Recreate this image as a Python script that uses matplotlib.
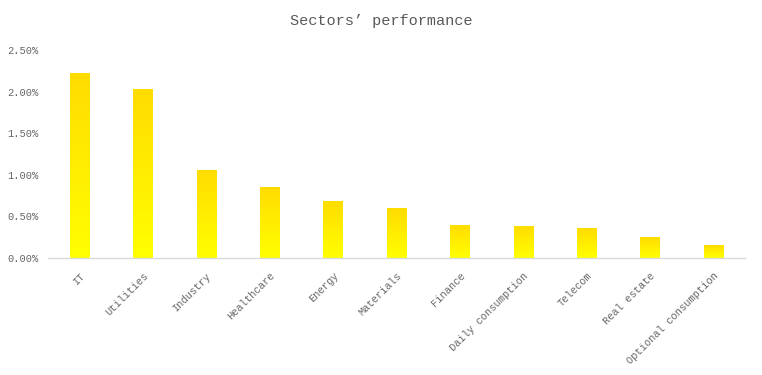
import matplotlib
matplotlib.use("Agg")
import matplotlib.pyplot as plt
import numpy as np
from matplotlib.ticker import FuncFormatter
from matplotlib.colors import LinearSegmentedColormap

categories = ["IT", "Utilities", "Industry", "Healthcare", "Energy", "Materials",
              "Finance", "Daily consumption", "Telecom", "Real estate",
              "Optional consumption"]
values = [2.22, 2.03, 1.06, 0.85, 0.685, 0.60, 0.40, 0.385, 0.36, 0.25, 0.155]
yticks = [0.0, 0.5, 1.0, 1.5, 2.0, 2.5]

font = "Liberation Mono"
fig = plt.figure(figsize=(7.62, 3.75), dpi=100)
ax = fig.add_axes([0.063, 0.312, 0.915, 0.555])

x = np.arange(len(categories))
bars = ax.bar(x, values, width=0.31, color="none", edgecolor="none")
cmap = LinearSegmentedColormap.from_list("g", ["#FFFF00", "#FFDC00"])
grad = np.linspace(0, 1, 256).reshape(-1, 1)
for b in bars:
    x0, y0 = b.get_x(), b.get_y()
    w, h = b.get_width(), b.get_height()
    im = ax.imshow(grad, cmap=cmap, origin="lower", aspect="auto",
                   extent=[x0, x0 + w, y0, y0 + h], zorder=2)
    im.set_clip_path(b)

ax.set_xlim(-0.5, len(categories) - 0.5)
ax.set_ylim(0, 2.5)
ax.set_yticks(yticks)
ax.yaxis.set_major_formatter(FuncFormatter(lambda v, p: f"{v:.2f}%"))
ax.set_xticks(x)
ax.set_xticklabels(categories, rotation=45, ha="right", va="top",
                   rotation_mode="anchor", family=font, fontsize=7.5, color="#666666")
for lab in ax.get_yticklabels():
    lab.set_family(font)
    lab.set_fontsize(7.5)
    lab.set_color("#666666")
ax.tick_params(axis="both", length=0)
ax.tick_params(axis="x", pad=9)
ax.tick_params(axis="y", pad=7)
for s in ["top", "right", "left"]:
    ax.spines[s].set_visible(False)
ax.spines["bottom"].set_color("#d9d9d9")
ax.spines["bottom"].set_linewidth(1)

fig.text(0.5, 0.945, "Sectors\u2019 performance", ha="center", va="center",
         family=font, fontsize=11, color="#595959")

fig.savefig("out.png", dpi=100)
